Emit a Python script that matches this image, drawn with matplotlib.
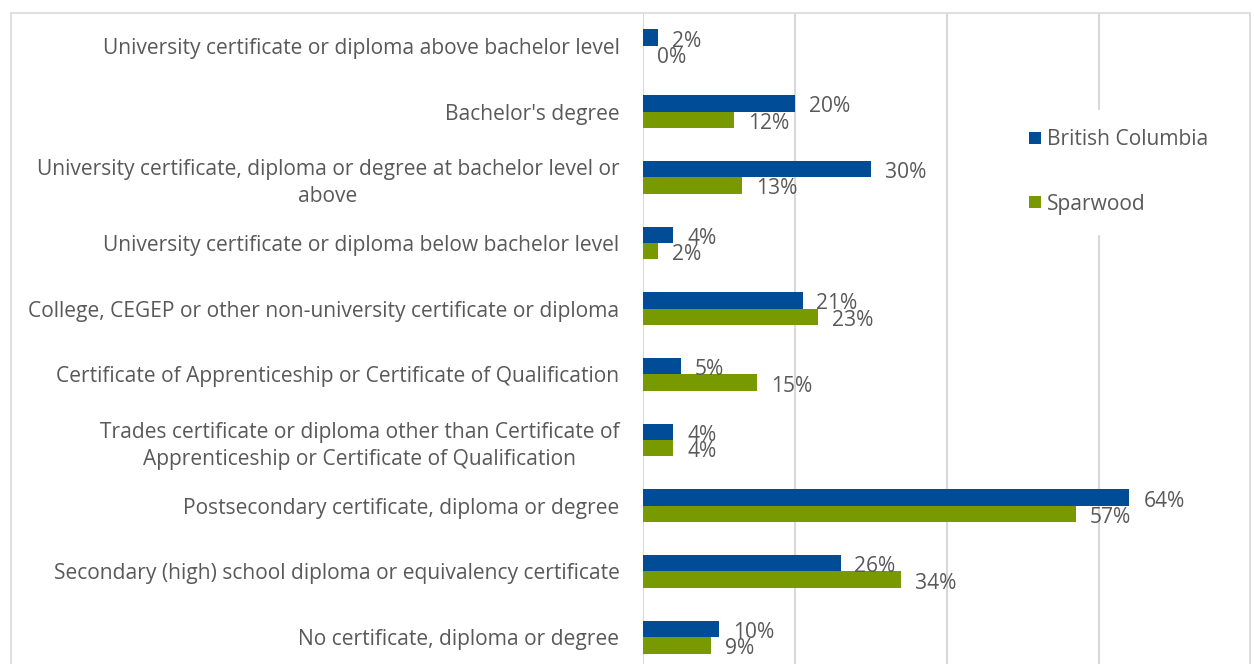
import numpy as np
import matplotlib

matplotlib.use('Agg')
import matplotlib.pyplot as plt
from matplotlib.patches import Rectangle

categories = [
    "University certificate or diploma above bachelor level",
    "Bachelor's degree",
    "University certificate, diploma or degree at bachelor level or\nabove",
    "University certificate or diploma below bachelor level",
    "College, CEGEP or other non-university certificate or diploma",
    "Certificate of Apprenticeship or Certificate of Qualification",
    "Trades certificate or diploma other than Certificate of\nApprenticeship or Certificate of Qualification",
    "Postsecondary certificate, diploma or degree",
    "Secondary (high) school diploma or equivalency certificate",
    "No certificate, diploma or degree",
]
british_columbia = [2, 20, 30, 4, 21, 5, 4, 64, 26, 10]
sparwood = [0, 12, 13, 2, 23, 15, 4, 57, 34, 9]

blue = '#004C97'
green = '#789A00'
text_color = '#595959'
grid_color = '#D9D9D9'
fs = 15.15

plt.rcParams['font.family'] = ['Open Sans', 'DejaVu Sans']
W, H = 1254, 664
fig = plt.figure(figsize=(W / 100, H / 100), dpi=100)

left, right, top, bottom = 643, 1251, 13, 670
ax = fig.add_axes([left / W, 1 - bottom / H, (right - left) / W, (bottom - top) / H])

y = np.arange(len(categories))
h = 0.25
ax.barh(y - h / 2, british_columbia, height=h, color=blue, label='British Columbia', zorder=3)
ax.barh(y + h / 2, sparwood, height=h, color=green, label='Sparwood', zorder=3)

# data labels sit a little below the bar centre, like the original
for yi, v in zip(y, british_columbia):
    ax.annotate(f'{v}%', (v, yi - h / 2), xytext=(10, -2.5), textcoords='offset points',
                va='center', ha='left', fontsize=fs, color=text_color, zorder=4)
for yi, v in zip(y, sparwood):
    ax.annotate(f'{v}%', (v, yi + h / 2), xytext=(10, -2.5), textcoords='offset points',
                va='center', ha='left', fontsize=fs, color=text_color, zorder=4)

ax.set_xlim(0, 80)
ax.set_ylim(len(categories) - 0.5, -0.5)
ax.set_xticks([0, 20, 40, 60, 80])
ax.tick_params(axis='x', length=0, labelbottom=False)
ax.set_yticks(y)
ax.set_yticklabels(categories, fontsize=fs, color=text_color, multialignment='center',
                   linespacing=1.4)
ax.tick_params(axis='y', length=0, pad=17)
ax.grid(axis='x', color=grid_color, linewidth=1.5, zorder=0)
for s in ax.spines.values():
    s.set_visible(False)

leg = fig.legend(loc='center left', bbox_to_anchor=(1000 / W, 1 - 172 / H),
                 frameon=True, fontsize=fs, labelcolor=text_color,
                 handlelength=0.55, handleheight=0.55, handletextpad=0.3,
                 labelspacing=2.05, borderpad=0.9, fancybox=False)
leg.get_frame().set_facecolor('white')
leg.get_frame().set_edgecolor('white')
leg.get_frame().set_alpha(1)

fig.patches.append(Rectangle((11 / W, -0.1), (1250 - 11) / W, 1.1 - 13 / H,
                             transform=fig.transFigure, fill=False,
                             edgecolor=grid_color, linewidth=1.2))

fig.savefig('out.png', dpi=100)
